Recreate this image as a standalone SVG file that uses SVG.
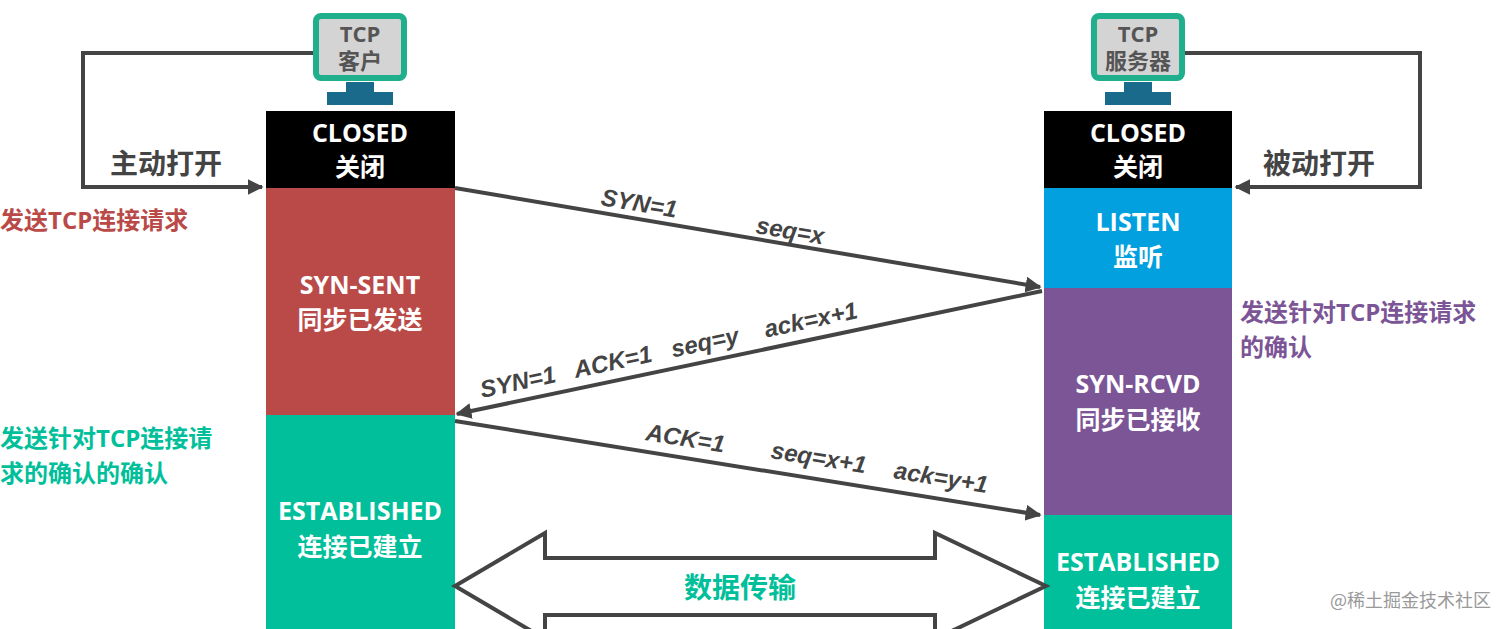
<svg xmlns="http://www.w3.org/2000/svg" width="1512" height="629" viewBox="0 0 1512 629">
<style>
.w{font-family:"Open Sans","Noto Sans CJK SC",sans-serif;font-weight:bold;fill:#fff;font-size:25px;text-anchor:middle}
.lb{font-family:"Open Sans","Noto Sans CJK SC",sans-serif;font-weight:bold;font-size:24px}
.big{font-size:28px}
.sq{font-family:"Liberation Sans","Noto Sans CJK SC",sans-serif;font-size:24px;fill:#444;font-style:italic;font-weight:bold}
.ln{stroke:#444;stroke-width:4;fill:none}
.scr{fill:#d4d4d4;stroke:#1faf8c;stroke-width:6}
.st{fill:#1a6a8c}
.mt{font-family:"Open Sans","Noto Sans CJK SC",sans-serif;font-weight:bold;font-size:22px;fill:#555;text-anchor:middle}
</style>
<defs><marker id="a" viewBox="0 0 10 10" refX="9" refY="5" markerWidth="4" markerHeight="4" orient="auto"><path d="M0,0L10,5L0,10z" fill="#444"/></marker></defs>
<rect width="1512" height="629" fill="#fff"/>
<g id="client">
<rect class="scr" x="316" y="16" width="88" height="62" rx="5"/>
<text class="mt" x="360" y="42">TCP</text><text class="mt" x="360" y="69">客户</text>
<rect class="st" x="346" y="82" width="28" height="11"/><rect class="st" x="327" y="92" width="66" height="13"/>
<rect x="266" y="111" width="189" height="77" fill="#000"/>
<text class="w" x="360" y="142">CLOSED</text><text class="w" x="360" y="176">关闭</text>
<rect x="266" y="188" width="189" height="227" fill="#b94a48"/>
<text class="w" x="360" y="294">SYN-SENT</text><text class="w" x="360" y="329">同步已发送</text>
<rect x="266" y="415" width="189" height="214" fill="#00bf9a"/>
<text class="w" x="360" y="520">ESTABLISHED</text><text class="w" x="360" y="556">连接已建立</text>
</g>
<g id="server">
<rect class="scr" x="1094" y="16" width="88" height="62" rx="5"/>
<text class="mt" x="1138" y="42">TCP</text><text class="mt" x="1138" y="69">服务器</text>
<rect class="st" x="1124" y="82" width="28" height="11"/><rect class="st" x="1105" y="92" width="66" height="13"/>
<rect x="1044" y="111" width="188" height="77" fill="#000"/>
<text class="w" x="1138" y="142">CLOSED</text><text class="w" x="1138" y="176">关闭</text>
<rect x="1044" y="188" width="188" height="100" fill="#03a0e0"/>
<text class="w" x="1138" y="231">LISTEN</text><text class="w" x="1138" y="266">监听</text>
<rect x="1044" y="288" width="188" height="227" fill="#7b5596"/>
<text class="w" x="1138" y="393">SYN-RCVD</text><text class="w" x="1138" y="429">同步已接收</text>
<rect x="1044" y="515" width="188" height="114" fill="#00bf9a"/>
<text class="w" x="1138" y="571">ESTABLISHED</text><text class="w" x="1138" y="607">连接已建立</text>
</g>
<g id="connectors">
<path class="ln" d="M313,53H83V187H262" marker-end="url(#a)"/>
<path class="ln" d="M1185,53H1420V187H1236" marker-end="url(#a)"/>
<path class="ln" d="M455,188L1040,287" marker-end="url(#a)"/>
<path class="ln" d="M1042,291L457,414" marker-end="url(#a)"/>
<path class="ln" d="M455,421L1040,515" marker-end="url(#a)"/>
<path d="M455,586L545,533V558H935V533L1046,586L935,639V615H545V639Z" fill="#fff" stroke="#444" stroke-width="4"/>
</g>
<text class="lb big" x="110" y="174" fill="#444">主动打开</text>
<text class="lb big" x="1263" y="174" fill="#444">被动打开</text>
<text class="lb" x="0" y="229" fill="#b94a48">发送TCP连接请求</text>
<text class="lb" x="1240" y="321" fill="#7b5596">发送针对TCP连接请求</text>
<text class="lb" x="1240" y="356" fill="#7b5596">的确认</text>
<text class="lb" x="0" y="447" fill="#00bf9a">发送针对TCP连接请</text>
<text class="lb" x="0" y="482" fill="#00bf9a">求的确认的确认</text>
<text class="lb big" x="740" y="598" fill="#00bf9a" text-anchor="middle">数据传输</text>
<text class="sq" transform="translate(600,205) rotate(9.5)">SYN=1</text>
<text class="sq" transform="translate(755,233) rotate(9.5)">seq=x</text>
<text class="sq" transform="translate(482,398) rotate(-12)" xml:space="preserve">SYN=1   ACK=1   seq=y    ack=x+1</text>
<text class="sq" transform="translate(645,440) rotate(9.2)">ACK=1</text>
<text class="sq" transform="translate(770,458) rotate(9.2)">seq=x+1</text>
<text class="sq" transform="translate(893,478) rotate(9.2)">ack=y+1</text>
<text x="1330" y="607" font-family="'Noto Sans CJK SC',sans-serif" font-size="18" fill="#999">@稀土掘金技术社区</text>
</svg>
